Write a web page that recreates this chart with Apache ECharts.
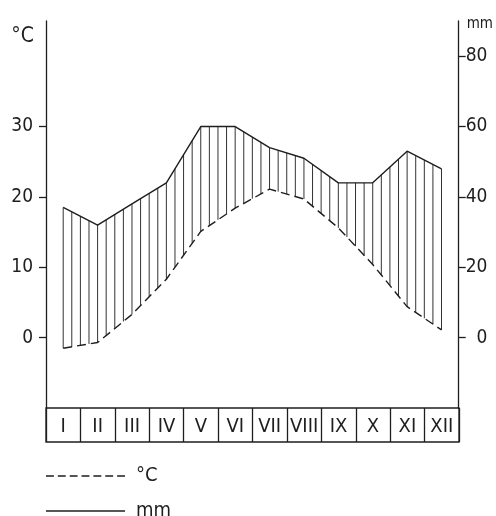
<!DOCTYPE html>
<html>
<head>
<meta charset="utf-8">
<script src="https://cdn.jsdelivr.net/npm/echarts@6/dist/echarts.min.js"></script>
<style>
html,body{margin:0;padding:0;background:#fff;}
#chart{width:496px;height:516px;}
</style>
</head>
<body>
<div id="chart"></div>
<script>
const months = ['I','II','III','IV','V','VI','VII','VIII','IX','X','XI','XII'];
const temperature = [-1.5, -0.7, 3.3, 8.3, 15.1, 18.4, 21.1, 19.7, 15.6, 10.4, 4.4, 1.1];
const precipitation = [37, 32, 38, 44, 60, 60, 54, 51, 44, 44, 53, 48];
const tempTicks = [0, 10, 20, 30];
const precTicks = [0, 20, 40, 60, 80];

const FONT = '"DejaVu Sans Condensed","Liberation Sans Narrow","Roboto",sans-serif';
const INK = '#1e1e1e';

// hatch data: each segment from month i to i+1, precipitation expressed on the °C axis (2 mm = 1 °C)
const hatchData = months.map((m, i) => {
  const j = Math.min(i + 1, months.length - 1);
  return [i, temperature[i], precipitation[i] / 2, j, temperature[j], precipitation[j] / 2];
});

const DASH_ICON = 'path://M0,0h8v1h-8zM12,0h8v1h-8zM24,0h8v1h-8zM36,0h8v1h-8zM48,0h8v1h-8zM60,0h8v1h-8zM72,0h8v1h-8z';
const SOLID_ICON = 'path://M0,0h80v1h-80z';

const legendBase = {
  orient: 'horizontal', left: 46, padding: 0, itemWidth: 79, itemHeight: 1.5, symbolKeepAspect: false,
  textStyle: {fontFamily: FONT, fontSize: 20, color: INK, padding: [0, 0, 0, 6]},
  itemStyle: {color: INK, borderWidth: 0}
};

const chart = echarts.init(document.getElementById('chart'), null, {renderer: 'canvas'});
chart.setOption({
  backgroundColor: '#ffffff',
  animation: false,
  textStyle: {fontFamily: FONT, color: INK},
  grid: [
    {left: 46, right: 37, top: 21, bottom: 108},
    {left: 46, right: 37, top: 408, height: 34, show: true, borderColor: INK, borderWidth: 1.3, backgroundColor: 'transparent'}
  ],
  legend: [
    Object.assign({}, legendBase, {top: 466, data: [{name: '°C', icon: DASH_ICON}]}),
    Object.assign({}, legendBase, {top: 501, data: [{name: 'mm', icon: SOLID_ICON}]})
  ],
  xAxis: [
    {type: 'category', gridIndex: 0, data: months, boundaryGap: true,
     axisLine: {show: false}, axisTick: {show: false}, axisLabel: {show: false}, splitLine: {show: false}},
    {type: 'category', gridIndex: 1, data: months, boundaryGap: true,
     axisLine: {show: false}, axisTick: {show: false},
     splitLine: {show: true, interval: 0, lineStyle: {color: INK, width: 1.3}},
     axisLabel: {inside: true, interval: 0, margin: 5, fontFamily: FONT, fontSize: 20, color: INK}}
  ],
  yAxis: [
    {type: 'value', gridIndex: 0, min: -10, max: 45, interval: 10, position: 'left',
     name: '°C', nameLocation: 'end', nameGap: -16,
     nameTextStyle: {fontFamily: FONT, fontSize: 21, color: INK, align: 'right', verticalAlign: 'middle', padding: [0, 12, 0, 0]},
     axisLine: {show: true, lineStyle: {color: INK, width: 1.3}},
     axisTick: {show: true, length: 7, customValues: tempTicks, lineStyle: {color: INK, width: 1.3}},
     axisLabel: {customValues: tempTicks, margin: 13, fontFamily: FONT, fontSize: 19, color: INK},
     splitLine: {show: false}},
    {type: 'value', gridIndex: 0, min: -20, max: 90, interval: 20, position: 'right',
     name: 'mm', nameLocation: 'end', nameGap: -3,
     nameTextStyle: {fontFamily: FONT, fontSize: 15, color: INK, align: 'left', verticalAlign: 'middle', padding: [0, 0, 0, 8]},
     axisLine: {show: true, lineStyle: {color: INK, width: 1.3}},
     axisTick: {show: true, length: 7, customValues: precTicks, lineStyle: {color: INK, width: 1.3}},
     axisLabel: {customValues: precTicks, margin: 7, fontFamily: FONT, fontSize: 19, color: INK,
                 formatter: v => (v === 0 ? '  0' : String(v))},
     splitLine: {show: false}},
    {type: 'value', gridIndex: 1, min: 0, max: 1, show: false}
  ],
  series: [
    {
      type: 'custom', name: 'hatch', xAxisIndex: 0, yAxisIndex: 0, silent: true,
      data: hatchData,
      encode: {x: 0, y: 1},
      renderItem: function (params, api) {
        const i = api.value(0), j = api.value(3);
        const t0 = api.coord([i, api.value(1)]);
        const p0 = api.coord([i, api.value(2)]);
        const t1 = api.coord([j, api.value(4)]);
        const p1 = api.coord([j, api.value(5)]);
        const fr = (i === j) ? [0] : [0, 0.25, 0.5, 0.75];
        const children = fr.map(f => ({
          type: 'line',
          shape: {
            x1: t0[0] + (t1[0] - t0[0]) * f, y1: t0[1] + (t1[1] - t0[1]) * f,
            x2: p0[0] + (p1[0] - p0[0]) * f, y2: p0[1] + (p1[1] - p0[1]) * f
          },
          style: {stroke: '#333333', lineWidth: 1}
        }));
        return {type: 'group', children: children};
      },
      z: 1
    },
    {
      type: 'line', name: '°C', xAxisIndex: 0, yAxisIndex: 0, data: temperature,
      symbol: 'none', lineStyle: {color: INK, width: 1.4, type: [9, 5]}, itemStyle: {color: INK}, z: 3
    },
    {
      type: 'line', name: 'mm', xAxisIndex: 0, yAxisIndex: 1, data: precipitation,
      symbol: 'none', lineStyle: {color: INK, width: 1.4, type: 'solid'}, itemStyle: {color: INK}, z: 3
    }
  ]
});
</script>
</body>
</html>
